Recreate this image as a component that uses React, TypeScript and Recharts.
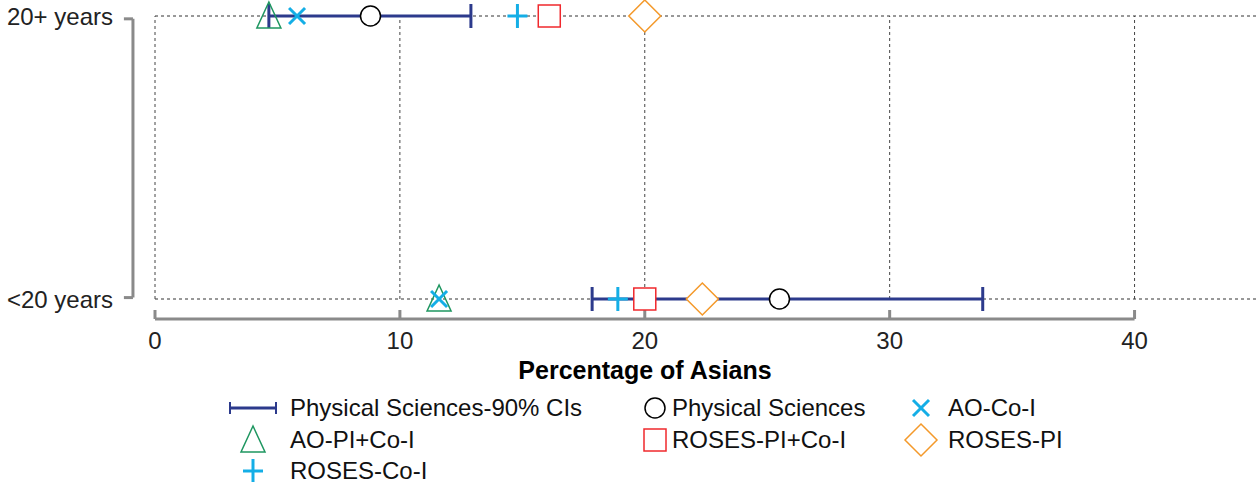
import React from 'react';
import {
    ScatterChart,
    Scatter,
    XAxis,
    YAxis,
    ErrorBar,
    ReferenceLine,
    Label,
} from 'recharts';

// rows: 20+ years on top, <20 years at bottom
const rowLabels = ['20+ years', '<20 years'];
const rowValues = [1, 0];
const xTicks = [0, 10, 20, 30, 40];

const physSciences = [8.8, 25.5];
const ciLow = [4.65, 17.85];
const ciHigh = [12.9, 33.8];
const aoCoI = [5.8, 11.6];
const aoPiCoI = [4.65, 11.6];
const rosesCoI = [14.8, 18.9];
const rosesPiCoI = [16.1, 20.0];
const rosesPi = [20.0, 22.35];

const FONT = '"Liberation Sans", Arial, Helvetica, sans-serif';
const NAVY = '#2c3a8c';
const CYAN = '#14aee6';
const GREEN = '#1e9660';
const RED = '#f0282d';
const ORANGE = '#f4992a';
const AXIS_GREY = '#8a8a8a';

const Y_MIN = -20 / 283;

const pts = (vals: number[]) => vals.map((v, i) => ({ x: v, y: rowValues[i] }));

const ciData = physSciences.map((v, i) => ({
    x: v,
    y: rowValues[i],
    err: [v - ciLow[i], ciHigh[i] - v],
}));

const CircleShape = (p: any) => (
    <circle cx={p.cx} cy={p.cy} r={10} fill="#fff" stroke="#000" strokeWidth={1.5} />
);
const CrossShape = (p: any) => (
    <g stroke={CYAN} strokeWidth={3}>
        <line x1={p.cx - 8} y1={p.cy - 8} x2={p.cx + 8} y2={p.cy + 8} />
        <line x1={p.cx - 8} y1={p.cy + 8} x2={p.cx + 8} y2={p.cy - 8} />
    </g>
);
const TriangleShape = (p: any) => (
    <polygon
        points={`${p.cx},${p.cy - 14} ${p.cx - 12},${p.cy + 12} ${p.cx + 12},${p.cy + 12}`}
        fill="none"
        stroke={GREEN}
        strokeWidth={1.5}
    />
);
const PlusShape = (p: any) => (
    <g stroke={CYAN} strokeWidth={3}>
        <line x1={p.cx} y1={p.cy - 12} x2={p.cx} y2={p.cy + 12} />
        <line x1={p.cx - 10} y1={p.cy} x2={p.cx + 10} y2={p.cy} />
    </g>
);
const SquareShape = (p: any) => (
    <rect x={p.cx - 11} y={p.cy - 11} width={22} height={22} fill="#fff" stroke={RED} strokeWidth={1.5} />
);
const DiamondShape = (p: any) => (
    <polygon
        points={`${p.cx},${p.cy - 16} ${p.cx + 16},${p.cy} ${p.cx},${p.cy + 16} ${p.cx - 16},${p.cy}`}
        fill="#fff"
        stroke={ORANGE}
        strokeWidth={1.5}
    />
);
const NoShape = () => <g />;

const legendItems = [
    { label: 'Physical Sciences-90% CIs', left: 228, top: 392, icon: 'ci' },
    { label: 'Physical Sciences', left: 640, top: 392, icon: 'circle' },
    { label: 'AO-Co-I', left: 905, top: 392, icon: 'cross' },
    { label: 'AO-PI+Co-I', left: 228, top: 424, icon: 'triangle' },
    { label: 'ROSES-PI+Co-I', left: 640, top: 424, icon: 'square' },
    { label: 'ROSES-PI', left: 905, top: 424, icon: 'diamond' },
    { label: 'ROSES-Co-I', left: 228, top: 455, icon: 'plus' },
];

const LegendIcon = ({ kind, x }: { kind: string; x: number }) => {
    const c = { cx: x, cy: 16 };
    switch (kind) {
        case 'ci':
            return (
                <g stroke={NAVY} strokeWidth={3}>
                    <line x1={2} y1={16} x2={48} y2={16} />
                    <line x1={2} y1={10} x2={2} y2={22} strokeWidth={2} />
                    <line x1={48} y1={10} x2={48} y2={22} strokeWidth={2} />
                </g>
            );
        case 'circle':
            return <CircleShape {...c} />;
        case 'cross':
            return <CrossShape {...c} />;
        case 'triangle':
            return <TriangleShape {...c} />;
        case 'square':
            return <SquareShape {...c} />;
        case 'diamond':
            return <DiamondShape {...c} />;
        default:
            return <PlusShape {...c} />;
    }
};

const CustomLegend = () => (
    <>
        {legendItems.map((it) => {
            const wide = it.left === 228;
            const iconW = wide ? 62 : it.left === 640 ? 32 : 43;
            const iconX = wide ? (it.icon === 'ci' ? 0 : 25) : it.left === 640 ? 15 : 16;
            return (
                <div
                    key={it.label}
                    style={{
                        position: 'absolute',
                        left: it.left,
                        top: it.top,
                        height: 32,
                        display: 'flex',
                        alignItems: 'center',
                        fontFamily: FONT,
                        fontSize: 24,
                        color: '#111',
                        whiteSpace: 'nowrap',
                    }}
                >
                    <svg width={iconW} height={32} style={{ overflow: 'visible', flexShrink: 0 }}>
                        <LegendIcon kind={it.icon} x={iconX} />
                    </svg>
                    <span>{it.label}</span>
                </div>
            );
        })}
    </>
);

export default function App() {
    return (
        <div style={{ position: 'absolute', left: 0, top: 0, width: 1257, height: 482, background: '#fff' }}>
            <ScatterChart width={1257} height={482} margin={{ top: 16, right: 0, left: 0, bottom: 103 }}>
                <XAxis
                    type="number"
                    dataKey="x"
                    domain={[0, 45]}
                    ticks={xTicks}
                    axisLine={false}
                    tickLine={false}
                    tickMargin={7}
                    height={60}
                    tick={{ fill: '#222', fontSize: 24, fontFamily: FONT }}
                >
                    <Label
                        value="Percentage of Asians"
                        position="insideBottom"
                        offset={0}
                        dx={-61}
                        style={{ fontWeight: 'bold', fontSize: 25, fontFamily: FONT, fill: '#000' }}
                    />
                </XAxis>
                <YAxis
                    type="number"
                    dataKey="y"
                    domain={[Y_MIN, 1]}
                    ticks={rowValues}
                    interval={0}
                    width={155}
                    axisLine={false}
                    tickLine={false}
                    tickMargin={36}
                    tickFormatter={(v: number) => rowLabels[rowValues.indexOf(v)] ?? ''}
                    tick={{ fill: '#222', fontSize: 24, fontFamily: FONT }}
                />

                {/* dotted grid */}
                {rowValues.map((r) => (
                    <ReferenceLine key={`h${r}`} y={r} stroke="#333" strokeDasharray="3 3" strokeWidth={1} />
                ))}
                {xTicks.map((t) => (
                    <ReferenceLine
                        key={`v${t}`}
                        segment={[{ x: t, y: 0 }, { x: t, y: 1 }]}
                        stroke="#444"
                        strokeDasharray="3 3"
                        strokeWidth={1}
                    />
                ))}

                {/* offset x axis 0..40 with upward ticks */}
                <ReferenceLine
                    segment={[{ x: 0, y: Y_MIN }, { x: 40, y: Y_MIN }]}
                    stroke={AXIS_GREY}
                    strokeWidth={3}
                    ifOverflow="visible"
                />
                {xTicks.map((t) => (
                    <ReferenceLine
                        key={`t${t}`}
                        segment={[{ x: t, y: Y_MIN }, { x: t, y: Y_MIN + 9 / 283 }]}
                        stroke={AXIS_GREY}
                        strokeWidth={3}
                        ifOverflow="visible"
                    />
                ))}

                {/* offset y axis bracket */}
                <ReferenceLine
                    segment={[{ x: -0.9, y: 0.005 }, { x: -0.9, y: 0.99 }]}
                    stroke={AXIS_GREY}
                    strokeWidth={3}
                    ifOverflow="visible"
                />
                <ReferenceLine
                    segment={[{ x: -0.9, y: 0.99 }, { x: -1.27, y: 0.99 }]}
                    stroke={AXIS_GREY}
                    strokeWidth={3}
                    ifOverflow="visible"
                />
                <ReferenceLine
                    segment={[{ x: -0.9, y: 0.005 }, { x: -1.27, y: 0.005 }]}
                    stroke={AXIS_GREY}
                    strokeWidth={3}
                    ifOverflow="visible"
                />

                <Scatter data={pts(aoPiCoI)} shape={TriangleShape} isAnimationActive={false} />
                <Scatter data={ciData} shape={NoShape} isAnimationActive={false}>
                    <ErrorBar dataKey="err" direction="x" width={12} stroke={NAVY} strokeWidth={3} />
                </Scatter>
                <Scatter data={pts(physSciences)} shape={CircleShape} isAnimationActive={false} />
                <Scatter data={pts(aoCoI)} shape={CrossShape} isAnimationActive={false} />
                <Scatter data={pts(rosesCoI)} shape={PlusShape} isAnimationActive={false} />
                <Scatter data={pts(rosesPiCoI)} shape={SquareShape} isAnimationActive={false} />
                <Scatter data={pts(rosesPi)} shape={DiamondShape} isAnimationActive={false} />
            </ScatterChart>
            <CustomLegend />
        </div>
    );
}
